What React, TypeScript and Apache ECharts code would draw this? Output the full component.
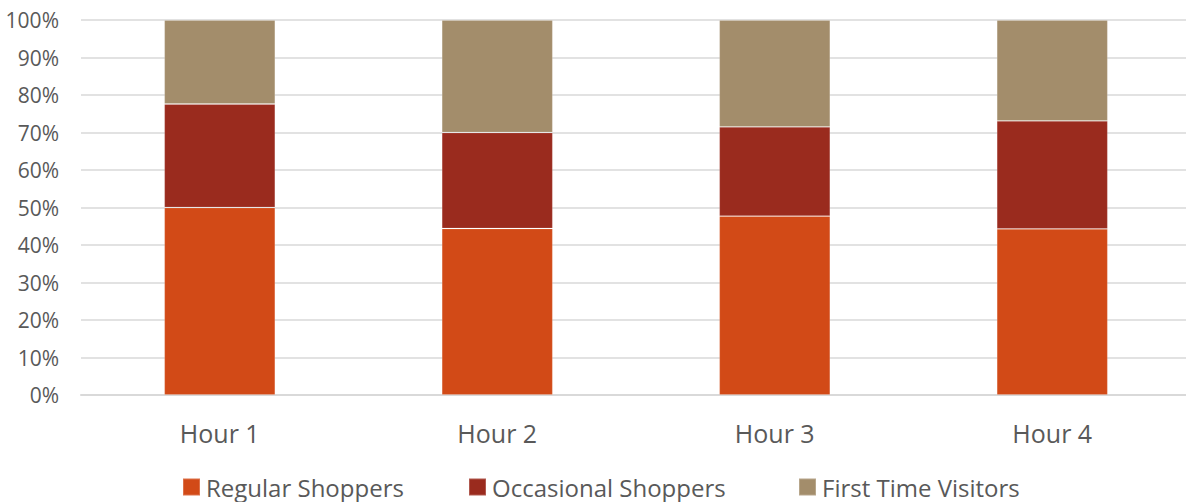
import React, { useEffect, useRef } from "react";
import * as echarts from "echarts";

// Share of visitors per hour, in percent of that hour's total
const categories = ["Hour 1", "Hour 2", "Hour 3", "Hour 4"];
const regularShoppers = [50.0, 44.4, 47.7, 44.3];
const occasionalShoppers = [27.6, 25.6, 23.8, 28.8];
const firstTimeVisitors = [22.4, 30.0, 28.5, 26.9];

const seriesNames = ["Regular Shoppers", "Occasional Shoppers", "First Time Visitors"];
const seriesColors = ["#D24A17", "#9A2B1E", "#A38D6B"];
// left edge of each legend entry
const legendLefts = [182, 468, 798];

const FONT = "'Open Sans', sans-serif";
const TEXT_COLOR = "#595959";

export default function App() {
  const ref = useRef<HTMLDivElement>(null);

  useEffect(() => {
    if (!ref.current) return;
    const chart = echarts.init(ref.current, undefined, { renderer: "svg" });

    const values = [regularShoppers, occasionalShoppers, firstTimeVisitors];

    chart.setOption({
      animation: false,
      backgroundColor: "#ffffff",
      textStyle: { fontFamily: FONT },
      grid: { left: 81, right: 0, top: 20, bottom: 107, containLabel: false },
      legend: seriesNames.map((name, i) => ({
        left: legendLefts[i],
        top: 475,
        padding: 0,
        itemWidth: 17,
        itemHeight: 17,
        icon: "rect",
        data: [name],
        textStyle: {
          fontFamily: FONT,
          fontSize: 24,
          lineHeight: 24,
          color: TEXT_COLOR,
          padding: [0, 0, 0, 1],
        },
      })),
      xAxis: {
        type: "category",
        data: categories,
        axisTick: { show: false },
        axisLine: { show: true, lineStyle: { color: "#D9D9D9", width: 2 } },
        axisLabel: {
          color: TEXT_COLOR,
          fontFamily: FONT,
          fontSize: 25,
          margin: 25,
          lineHeight: 25,
        },
      },
      yAxis: {
        type: "value",
        min: 0,
        max: 100,
        interval: 10,
        axisLine: { show: false },
        axisTick: { show: false },
        splitLine: { lineStyle: { color: "#D9D9D9", width: 1.5 } },
        axisLabel: {
          color: TEXT_COLOR,
          fontFamily: FONT,
          fontSize: 21,
          margin: 22,
          formatter: "{value}%",
        },
      },
      series: seriesNames.map((name, i) => ({
        name,
        type: "bar",
        stack: "total",
        barWidth: 111,
        data: values[i],
        itemStyle: {
          color: seriesColors[i],
          borderColor: "rgba(255,255,255,0.22)",
          borderWidth: 0.8,
        },
      })),
    });

    return () => chart.dispose();
  }, []);

  return (
    <div
      style={{
        position: "fixed",
        left: 0,
        top: 0,
        width: 1186,
        height: 502,
        overflow: "hidden",
        background: "#ffffff",
      }}
    >
      <div ref={ref} style={{ width: 1191, height: 502 }} />
    </div>
  );
}
